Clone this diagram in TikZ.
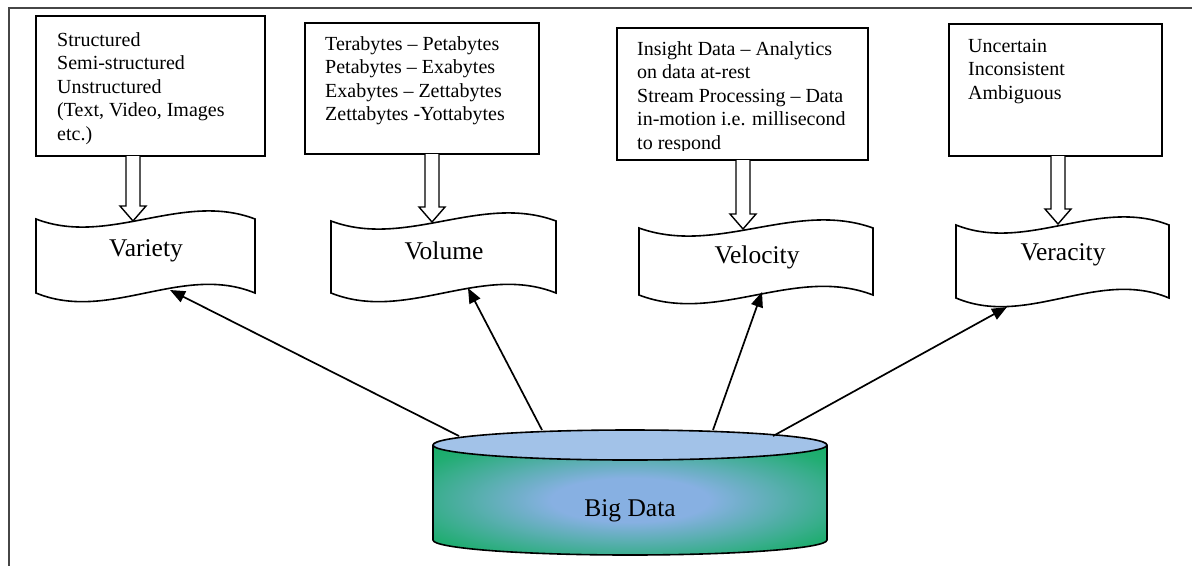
\documentclass[tikz,border=0pt]{standalone}
\usepackage{fontspec}
\setmainfont{Liberation Serif}
\usetikzlibrary{arrows.meta,calc}
\definecolor{cgreen}{RGB}{0,172,78}
\definecolor{cblue}{RGB}{135,176,226}
\definecolor{topblue}{RGB}{162,194,232}
\definecolor{framegray}{RGB}{70,70,70}
\pgfdeclareradialshading{cylshade}{\pgfpoint{0bp}{0bp}}{color(0bp)=(cblue); color(10bp)=(cblue); color(30bp)=(cgreen!75!cblue); color(45bp)=(cgreen); color(50bp)=(cgreen)}
\newcommand{\tapebanner}[4]{% x0, ytop, width, ybot
  \draw[bannerline] (#1,#2) .. controls ({#1+#3/3},{#2+28}) and ({#1+2*#3/3},{#2-28}) .. ({#1+#3},#2)
    -- ({#1+#3},#4) .. controls ({#1+2*#3/3},{#4-30}) and ({#1+#3/3},{#4+30}) .. (#1,#4) -- cycle;}
\newcommand{\blockarrow}[2]{%
  \draw[blockline] let \p1=(#1), \p2=(#2) in
    (\x1-7pt,\y1) -- (\x1-7pt,\y2+15pt) -- (\x1-13pt,\y2+15pt) -- (\x2,\y2)
    -- (\x1+13pt,\y2+15pt) -- (\x1+7pt,\y2+15pt) -- (\x1+7pt,\y1);}
\begin{document}
\begin{tikzpicture}[x=1pt,y=-1pt,
  infobox/.style={draw=black,line width=1.6pt,fill=white},
  boxtext/.style={anchor=north west,inner sep=0pt,align=left,font=\fontsize{20}{23.5}\selectfont},
  bannerline/.style={draw=black,line width=1.6pt,fill=white},
  bannertext/.style={inner sep=0pt,font=\fontsize{25.5}{30}\selectfont},
  blockline/.style={draw=black,line width=1.4pt,fill=white},
  link/.style={draw=black,line width=1.7pt,-{Triangle[length=15pt,width=12pt]}},
  frameline/.style={draw=framegray,line width=2pt}]
\useasboundingbox (0,0) rectangle (1192,566);
% outer frame
\draw[frameline] (1192,8) -- (9,8) -- (9,566);

% info boxes
\draw[infobox] (36,16) rectangle (265,156);
\node[boxtext] (t1) at (57,32) {Structured\\Semi-structured\\Unstructured\\(Text, Video, Images\\etc.)};
\draw[infobox] (305,23) rectangle (539,154);
\node[boxtext] (t2) at (325,36) {Terabytes -- Petabytes\\Petabytes -- Exabytes\\Exabytes -- Zettabytes\\Zettabytes -Yottabytes};
\draw[infobox] (617,28) rectangle (868,160);
\begin{scope}
\clip (617,28) rectangle (868,150);
\node[boxtext] (t3) at (637,41) {Insight Data -- Analytics\\on data at-rest\\Stream Processing -- Data\\in-motion i.e. millisecond\\to respond};
\end{scope}
\draw[infobox] (949,24) rectangle (1162,156);
\node[boxtext] (t4) at (968,39) {Uncertain\\Inconsistent\\Ambiguous};

% block arrow endpoints
\coordinate (s1) at (133,156); \coordinate (e1) at (133,221);
\coordinate (s2) at (432,154); \coordinate (e2) at (432,222);
\coordinate (s3) at (743,160); \coordinate (e3) at (743,229);
\coordinate (s4) at (1058,156); \coordinate (e4) at (1058,224);

% banners
\tapebanner{36}{219}{219}{293}
\node[bannertext] (variety) at (146,251) {Variety};
\tapebanner{331}{221}{225}{293}
\node[bannertext] (volume) at (444,251) {Volume};
\tapebanner{639}{228}{234}{295}
\node[bannertext] (velocity) at (757,257) {Velocity};
\tapebanner{956}{225}{213}{298}
\node[bannertext] (veracity) at (1063,255) {Veracity};

\blockarrow{s1}{e1}
\blockarrow{s2}{e2}
\blockarrow{s3}{e3}
\blockarrow{s4}{e4}

% cylinder
\shade[shading=cylshade] (433,445) -- (433,540) arc[start angle=180,end angle=360,x radius=197pt,y radius=15pt] -- (827,445) -- cycle;
\draw[line width=1.6pt] (433,445) -- (433,540) arc[start angle=180,end angle=360,x radius=197pt,y radius=15pt] -- (827,445);
\draw[line width=1.6pt,fill=topblue] (630,445) ellipse [x radius=197pt,y radius=15pt];
\node[bannertext] (bigdata) at (630,511) {Big Data};

% connectors
\coordinate (c1) at (459,436);
\coordinate (c2) at (542,430);
\coordinate (c3) at (713,430);
\coordinate (c4) at (773,436);
\coordinate (p1) at (170,290);
\coordinate (p2) at (468,288);
\coordinate (p3) at (762,292);
\coordinate (p4) at (1007,307);
\draw[link] (c1) -- (p1);
\draw[link] (c2) -- (p2);
\draw[link] (c3) -- (p3);
\draw[link] (c4) -- (p4);
\end{tikzpicture}
\end{document}
